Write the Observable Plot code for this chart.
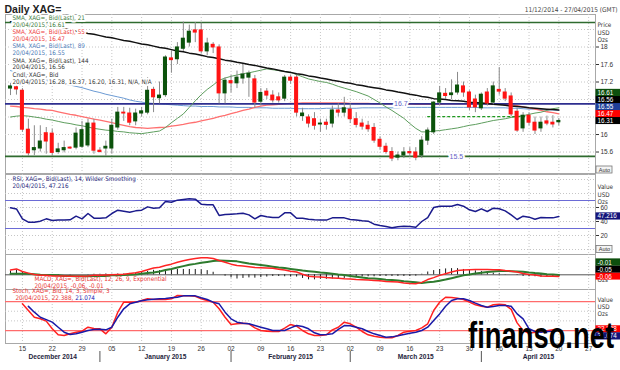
<!DOCTYPE html>
<html><head><meta charset="utf-8">
<script src="https://cdn.jsdelivr.net/npm/d3@7"></script>
<script src="https://cdn.jsdelivr.net/npm/@observablehq/plot@0.6"></script>
<style>
body{margin:0;background:#fff;}
#wrap{position:relative;width:620px;height:370px;overflow:hidden;background:#fff;}
#wrap svg{position:absolute;left:0;top:0;background:transparent !important;}
#wm{position:absolute;right:6px;top:318px;font-family:"Liberation Sans",Arial,sans-serif;font-weight:bold;font-size:36px;line-height:36px;color:#000;transform:scaleX(0.76);transform-origin:100% 50%;white-space:nowrap;}
</style></head><body><div id="wrap"></div>
<script>
// ---------- DATA ----------
const firstDay = "2014-12-11", lastAxisDay = "2015-04-27";
const open = [17.05,17.08,17.00,16.11,15.64,15.68,16.03,16.02,15.60,15.64,
 15.70,15.70,15.72,15.75,16.25,15.63,15.68,15.68,16.16,16.50,
 16.48,16.30,16.48,16.50,17.02,16.83,16.90,17.74,17.72,17.96,
 18.10,18.38,18.38,17.90,18.05,17.99,16.94,17.22,17.17,17.28,
 17.30,17.26,16.75,16.98,16.89,16.85,16.82,17.30,17.30,16.42,
 16.39,16.35,16.23,16.27,16.25,16.55,16.50,16.57,16.35,16.25,
 16.20,16.15,15.88,15.72,15.60,15.47,15.52,15.60,15.59,15.52,
 15.86,16.05,16.73,16.93,16.90,16.96,17.10,16.96,16.80,16.60,
 16.96,16.73,17.02,16.96,16.87,16.52,16.14,16.43,16.27,16.14,
 16.30,16.27,16.28];
const high = [17.17,17.12,17.05,16.35,16.20,16.20,16.16,16.12,15.80,15.85,
 15.72,16.15,16.30,16.35,16.35,15.70,15.85,16.35,16.62,16.62,
 16.60,16.58,16.62,17.30,17.08,17.20,17.80,17.90,18.10,18.57,
 18.50,18.56,18.55,18.20,18.10,18.05,17.30,17.35,17.45,17.60,
 17.45,17.35,17.05,17.05,17.00,16.95,17.35,17.35,17.35,16.60,
 16.45,16.50,16.35,16.35,16.65,16.70,16.85,16.70,16.50,16.35,
 16.30,16.25,15.95,15.80,15.70,15.60,15.70,15.70,15.70,15.95,
 16.15,16.75,17.10,17.05,17.25,17.42,17.20,17.00,16.90,16.95,
 17.05,17.20,17.53,17.05,16.95,16.60,16.50,16.50,16.40,16.40,
 16.42,16.43,16.37];
const low = [16.89,16.90,16.05,15.50,15.52,15.60,15.55,15.52,15.55,15.58,
 15.66,15.65,15.68,15.70,15.55,15.58,15.50,15.55,16.10,16.30,
 16.20,16.20,16.40,16.45,16.50,16.70,16.85,17.40,17.60,17.90,
 18.00,18.10,17.85,17.80,17.85,16.70,16.70,16.95,17.05,17.15,
 16.85,16.60,16.65,16.80,16.72,16.72,16.75,17.15,16.40,16.30,
 16.15,16.10,16.05,16.10,16.15,16.40,16.40,16.25,16.15,16.10,
 16.05,15.80,15.65,15.55,15.38,15.40,15.45,15.48,15.40,15.45,
 15.75,16.00,16.65,16.80,16.80,16.90,16.85,16.55,16.50,16.55,
 16.65,16.68,16.90,16.75,16.40,16.05,16.05,16.20,16.00,16.05,
 16.20,16.15,16.20];
const close = [17.10,17.03,16.11,15.57,15.69,15.84,15.84,15.58,15.66,15.69,
 15.68,16.02,16.10,16.25,15.63,15.60,15.72,16.20,16.50,16.48,
 16.27,16.48,16.53,17.00,16.85,16.89,17.76,17.70,17.99,18.19,
 18.35,18.33,17.90,18.08,17.99,16.94,17.23,17.17,17.30,17.37,
 17.39,16.73,16.95,16.89,16.78,16.78,17.30,17.23,16.50,16.48,
 16.25,16.20,16.25,16.22,16.55,16.50,16.60,16.35,16.22,16.18,
 16.12,15.86,15.72,15.60,15.45,15.52,15.59,15.57,15.47,15.86,
 16.09,16.73,16.94,16.88,16.94,17.12,16.96,16.62,16.62,16.91,
 16.71,17.10,16.98,16.82,16.46,16.09,16.43,16.27,16.09,16.27,
 16.25,16.23,16.31];
const sma21 = [16.40,16.42,16.43,16.42,16.40,16.38,16.35,16.33,16.30,16.27,
 16.25,16.22,16.20,16.17,16.14,16.12,16.10,16.09,16.07,16.06,
 16.04,16.03,16.02,16.04,16.06,16.08,16.16,16.27,16.37,16.47,
 16.62,16.77,16.91,17.03,17.13,17.24,17.29,17.33,17.36,17.39,
 17.41,17.44,17.47,17.50,17.48,17.46,17.44,17.42,17.37,17.32,
 17.27,17.24,17.21,17.19,17.15,17.10,17.06,17.02,16.98,16.93,
 16.88,16.80,16.72,16.63,16.55,16.46,16.37,16.25,16.14,16.06,
 16.06,16.08,16.09,16.11,16.13,16.15,16.18,16.21,16.23,16.26,
 16.29,16.32,16.34,16.36,16.39,16.41,16.43,16.46,16.49,16.51,
 16.55,16.59,16.61];
const sma55 = [16.65,16.64,16.62,16.61,16.59,16.58,16.56,16.55,16.52,16.49,
 16.46,16.44,16.41,16.38,16.35,16.33,16.30,16.27,16.24,16.21,
 16.18,16.16,16.15,16.14,16.15,16.16,16.17,16.19,16.21,16.23,
 16.26,16.28,16.31,16.34,16.37,16.41,16.44,16.48,16.51,16.55,
 16.58,16.62,16.65,16.67,16.68,16.69,16.70,16.71,16.71,16.72,
 16.72,16.72,16.72,16.72,16.72,16.72,16.72,16.71,16.71,16.71,
 16.71,16.70,16.70,16.70,16.70,16.70,16.70,16.70,16.69,16.69,
 16.69,16.69,16.69,16.70,16.70,16.70,16.70,16.70,16.70,16.70,
 16.70,16.70,16.70,16.69,16.68,16.66,16.63,16.61,16.58,16.55,
 16.52,16.50,16.47];
const sma89 = [17.46,17.43,17.40,17.36,17.32,17.28,17.25,17.22,17.18,17.15,
 17.13,17.10,17.07,17.03,16.99,16.96,16.92,16.89,16.86,16.83,
 16.79,16.76,16.74,16.72,16.71,16.70,16.69,16.68,16.67,16.66,
 16.65,16.65,16.64,16.64,16.64,16.63,16.63,16.63,16.62,16.62,
 16.62,16.61,16.61,16.61,16.60,16.60,16.60,16.60,16.59,16.59,
 16.59,16.59,16.59,16.60,16.60,16.60,16.60,16.60,16.60,16.61,
 16.61,16.61,16.61,16.61,16.61,16.61,16.62,16.62,16.62,16.62,
 16.62,16.62,16.62,16.62,16.62,16.62,16.62,16.62,16.62,16.61,
 16.61,16.61,16.61,16.61,16.60,16.60,16.59,16.58,16.58,16.57,
 16.56,16.56,16.55];
const sma144 = [18.58,18.56,18.55,18.53,18.52,18.50,18.49,18.47,18.44,18.42,
 18.39,18.36,18.34,18.31,18.29,18.26,18.23,18.21,18.18,18.15,
 18.13,18.10,18.07,18.05,18.02,17.99,17.97,17.94,17.91,17.89,
 17.86,17.84,17.81,17.78,17.76,17.73,17.70,17.68,17.65,17.63,
 17.60,17.58,17.55,17.52,17.50,17.47,17.44,17.42,17.39,17.37,
 17.34,17.32,17.29,17.27,17.24,17.22,17.19,17.17,17.14,17.12,
 17.09,17.07,17.05,17.02,17.00,16.97,16.95,16.92,16.90,16.87,
 16.85,16.82,16.81,16.80,16.78,16.77,16.76,16.74,16.73,16.72,
 16.71,16.69,16.68,16.67,16.65,16.64,16.63,16.61,16.60,16.59,
 16.58,16.57,16.56];
const rsi = [59.5,58,43.8,39,39,40.5,43.8,41.4,42,42,
 42.4,47.6,43.8,51.4,44.7,44.7,45.2,51.4,56.2,54.8,
 53.3,55.2,56.2,60.9,59,59.5,68.6,67.6,70.5,71.4,
 72.4,71.9,64.8,63.8,63.8,48.6,50,50.5,51,51.9,
 49.5,43.8,48.6,46.7,45.7,45.7,52.4,52.4,44.7,44.7,
 43.3,42.4,42,42,45.2,45.2,45.2,42.9,42,41,
 40.5,36.2,34.3,32.9,31,32.4,33.3,32.9,31.9,40,
 45.7,60,61.9,61.9,61.9,64.3,61.9,56.7,54.3,58.1,
 54.3,59,58.1,55.2,49.5,42.9,47.6,46.2,43.3,45.7,
 45.2,45.2,47.2];
const macd = [0.17,0.21,0.12,0.06,0.01,-0.02,-0.02,-0.04,-0.04,-0.04,
 -0.05,-0.05,-0.05,-0.04,-0.02,-0.02,-0.01,0,0.01,0.02,
 0.05,0.07,0.12,0.18,0.24,0.27,0.33,0.38,0.45,0.5,
 0.55,0.58,0.61,0.61,0.58,0.51,0.45,0.38,0.33,0.31,
 0.29,0.26,0.25,0.24,0.23,0.2,0.17,0.13,0.1,0.02,
 -0.05,-0.07,-0.08,-0.1,-0.11,-0.12,-0.14,-0.15,-0.17,-0.18,
 -0.19,-0.2,-0.21,-0.24,-0.25,-0.26,-0.29,-0.31,-0.32,-0.27,
 -0.17,-0.1,-0.02,0.04,0.1,0.15,0.17,0.18,0.19,0.19,
 0.19,0.18,0.18,0.15,0.13,0.1,0.05,0.01,-0.01,-0.04,
 -0.05,-0.05,-0.06];
const signal = [0.04,0.04,0.04,0.04,0.02,0,-0.01,-0.01,-0.02,-0.04,
 -0.04,-0.05,-0.05,-0.05,-0.04,-0.04,-0.04,-0.02,-0.02,-0.01,
 0,0.01,0.04,0.06,0.08,0.12,0.17,0.21,0.26,0.31,
 0.36,0.39,0.43,0.46,0.49,0.51,0.5,0.49,0.48,0.44,
 0.4,0.38,0.35,0.32,0.29,0.26,0.24,0.21,0.18,0.15,
 0.13,0.11,0.08,0.06,0.04,0.01,-0.01,-0.04,-0.07,-0.1,
 -0.12,-0.13,-0.15,-0.18,-0.19,-0.2,-0.23,-0.25,-0.27,-0.29,
 -0.27,-0.25,-0.21,-0.17,-0.12,-0.07,-0.02,0.01,0.05,0.07,
 0.1,0.12,0.14,0.14,0.13,0.12,0.11,0.08,0.06,0.05,
 0.02,0.01,-0.01];
const hist = [0.13,0.17,0.08,0.02,-0.01,-0.02,-0.01,-0.03,-0.02,0,
 -0.01,0,0,0.01,0.02,0.02,0.03,0.02,0.03,0.03,
 0.05,0.06,0.08,0.12,0.16,0.15,0.16,0.17,0.19,0.19,
 0.19,0.19,0.18,0.15,0.09,0,-0.05,-0.11,-0.15,-0.13,
 -0.11,-0.12,-0.1,-0.08,-0.06,-0.06,-0.07,-0.08,-0.08,-0.13,
 -0.18,-0.18,-0.16,-0.16,-0.15,-0.13,-0.13,-0.11,-0.1,-0.08,
 -0.07,-0.07,-0.06,-0.06,-0.06,-0.06,-0.06,-0.06,-0.05,0.02,
 0.1,0.15,0.19,0.21,0.22,0.22,0.19,0.17,0.14,0.12,
 0.09,0.06,0.04,0.01,0,-0.02,-0.06,-0.07,-0.07,-0.09,
 -0.07,-0.06,-0.05];
const stochK = [null,null,75.3,61.5,47.6,44.3,39.5,23.6,11.2,9.7,
 13.2,16.6,18.7,26.9,24.3,23.6,13.2,26.9,58,78.7,
 78.7,78.7,82.2,85.7,84.3,84.3,84.3,85.7,92.5,91.8,
 91.8,91,85.7,82.2,78.7,65,47.6,32.6,34,35.2,
 34,25.5,20.1,18.7,18,18,25,32.6,29,20.1,
 13.2,9.7,9.7,11.2,21.5,26.9,37.3,34,26.9,18,
 11.2,8.3,6.2,4.9,4.9,9.7,16.6,18.7,20.1,25.5,
 34,61.5,78.7,89,88.3,87,84.3,78.7,73.3,70.3,
 68.3,73.3,74.6,73.3,63.8,35.9,20.1,14.5,16.6,18,
 19.4,21.5,22.4];
const stochD = [null,null,null,70,58,47.6,42.7,37.3,26.9,16.6,
 11.8,13.2,16.6,20.1,22.2,22.9,21.5,26.9,47.6,65,
 75.3,78.7,81.5,83.6,85,85.7,86.4,87.8,89,91.8,
 91.8,91.8,87.8,84.3,78.7,75.3,58,44.3,37.3,35.2,
 34,30.4,26.9,23.6,20.1,20.1,20.1,25.5,30.4,28.3,
 23.6,15.3,11.2,11.8,13.2,22.2,30.4,29.7,26.9,23.6,
 18,13.2,9.7,6.2,6.9,9,11.8,14.5,16.6,20.1,
 26.9,40.8,54.5,70.3,82.2,85.7,85.7,82.2,76.7,71.7,
 68.3,69.6,71.7,71.7,70.3,54.5,44.3,23.6,18,16.6,
 18,18.7,21.1];
// last readings printed by the chart
const rsiLast = 47.216, macdLast = -0.06, signalLast = -0.01, histLast = -0.05, stochKLast = 22.388, stochDLast = 21.074;
// horizontal levels drawn on the price chart
const levels = [{v: 18.56, c: "#2f6b2f"}, {v: 16.7, c: "#2e2e8f", label: "16.7"}, {v: 15.5, c: "#2f6b2f", label: "15.5"}];
const dashedLevel = [{v: 16.41, from: "2015-03-19", to: "2015-04-13"}];
const priceTicks = [15.6, 16, 17.2, 17.6, 18];
const priceGrid = [15.6, 16, 16.4, 16.8, 17.2, 17.6, 18, 18.4];
const monthNames = ["December 2014", "January 2015", "February 2015", "March 2015", "April 2015"];

// ---------- LAYOUT ----------
const NARROW = '"Liberation Sans Narrow","DejaVu Sans Condensed","Liberation Sans",Arial,sans-serif';
const FONT = '"Liberation Sans",Arial,sans-serif';
const days = d3.utcDays(new Date(firstDay), d3.utcDay.offset(new Date(lastAxisDay), 1)).filter(d => d.getUTCDay() % 6 !== 0);
const idxOf = s => days.findIndex(d => +d === +new Date(s));
const rows = close.map((c, i) => ({i, o: open[i], h: high[i], l: low[i], c, s21: sma21[i], s55: sma55[i], s89: sma89[i], s144: sma144[i],
  rsi: rsi[i], macd: macd[i], signal: signal[i], hist: hist[i], k: stochK[i], d: stochD[i]}));
const mondays = days.map((d, i) => ({d, i})).filter(o => o.d.getUTCDay() === 1);
const xDomain = [-0.84, 98.15];
const X = d3.scaleLinear(xDomain, [5, 595]);
const panels = {
  main: {top: 14, bottom: 173, domain: [15.109, 18.743]},
  rsi: {top: 174, bottom: 254, domain: [-7.14, 107.14]},
  macd: {top: 254, bottom: 289, domain: [-0.525, 0.725]},
  stoch: {top: 289, bottom: 343, domain: [-6.83, 104.97]}
};
for (const k in panels) panels[k].Y = d3.scaleLinear(panels[k].domain, [panels[k].bottom, panels[k].top]);

function stack(items, Y, dir) {
  const s = items.slice().sort((a, b) => dir === "up" ? a.v - b.v : b.v - a.v);
  let prev = null;
  return s.map(d => {
    let yc = Y(d.v);
    if (prev !== null) yc = dir === "up" ? Math.min(yc, prev - 7) : Math.max(yc, prev + 7);
    prev = yc;
    return {...d, ym: Y.invert(yc), y1: Y.invert(yc + 3.6), y2: Y.invert(yc - 3.6)};
  });
}
const bx1 = X.invert(595.5), bx2 = X.invert(620), btx = X.invert(597);
function boxMarks(boxes) {
  return [
    Plot.rect(boxes, {x1: bx1, x2: bx2, y1: "y1", y2: "y2", fill: "bg"}),
    Plot.text(boxes, {x: btx, y: "ym", text: "label", fill: "white", textAnchor: "start", fontSize: 6.3, fontFamily: FONT})
  ];
}
function autoMarks(Y, yc) {
  return [
    Plot.rect([0], {x1: X.invert(596), x2: X.invert(612), y1: Y.invert(yc + 3.5), y2: Y.invert(yc - 3.5), fill: "#f4f4f4", stroke: "#777", strokeWidth: 0.8}),
    Plot.text(["Auto"], {x: X.invert(604), y: Y.invert(yc), text: d => d, fontSize: 5.5, fill: "#333", fontFamily: FONT})
  ];
}
const grid = {stroke: "#c6c6c6", strokeDasharray: "1,2", strokeWidth: 1};
function makePlot(p, yOpts, xOpts, marks) {
  return Plot.plot({
    width: 620, height: 370,
    marginLeft: 5, marginRight: 25, marginTop: p.top, marginBottom: 370 - p.bottom,
    x: {domain: xDomain, axis: null, ...xOpts},
    y: {domain: p.domain, axis: null, label: null, ...yOpts},
    color: {type: "identity"},
    style: {background: "transparent", fontFamily: FONT, fontSize: "6.5px", color: "#333", overflow: "visible"},
    marks
  });
}
const fmt2 = v => v.toFixed(2);
const last = a => a[a.length - 1];
const halo = {stroke: "white", strokeWidth: 3.5};

// ---------- MAIN PRICE PANEL ----------
const M = panels.main;
const legendBlocks = [
  {t: `SMA, XAG=, Bid(Last), 21\n20/04/2015, ${fmt2(last(sma21))}`, c: "#3b7b3b"},
  {t: `SMA, XAG=, Bid(Last), 55\n20/04/2015, ${fmt2(last(sma55))}`, c: "#ee3b3b"},
  {t: `SMA, XAG=, Bid(Last), 89\n20/04/2015, ${fmt2(last(sma89))}`, c: "#4a78b5"},
  {t: `SMA, XAG=, Bid(Last), 144\n20/04/2015, ${fmt2(last(sma144))}`, c: "#333"},
  {t: `Cndl, XAG=, Bid\n20/04/2015, ${fmt2(last(open))}, ${fmt2(last(high))}, ${fmt2(last(low))}, ${fmt2(last(close))}, N/A, N/A`, c: "#333"}
];
const mainBoxes = stack([
  {v: last(sma21), label: fmt2(last(sma21)), bg: "#0d4f0d"},
  {v: last(sma144), label: fmt2(last(sma144)), bg: "#000"},
  {v: last(sma89), label: fmt2(last(sma89)), bg: "#1f3f99"},
  {v: last(sma55), label: fmt2(last(sma55)), bg: "#ff0000"},
  {v: last(close), label: fmt2(last(close)), bg: "#000"}
], M.Y, "up");
const levelLabelAt = {"16.7": 65.5, "15.5": 74.8};
const mainPlot = makePlot(M, {axis: "right", ticks: priceTicks, tickSize: 3, tickPadding: 2, tickFormat: d => String(d)}, {}, [
  Plot.frame({stroke: "#a8a8a8"}),
  Plot.ruleX(mondays, {x: "i", ...grid}),
  Plot.ruleY(priceGrid, grid),
  Plot.line(rows, {x: "i", y: "s89", stroke: "#6c9bd4", strokeWidth: 1}),
  Plot.line(rows, {x: "i", y: "s55", stroke: "#ff7070", strokeWidth: 1.3}),
  Plot.ruleY(levels, {y: "v", stroke: "c", strokeWidth: 1.6}),
  Plot.line(rows, {x: "i", y: "s21", stroke: "#5e9e5e", strokeWidth: 1}),
  Plot.line(rows, {x: "i", y: "s144", stroke: "#111", strokeWidth: 1.5}),
  Plot.ruleY(dashedLevel, {y: "v", x1: d => idxOf(d.from), x2: d => idxOf(d.to), stroke: "#1f9a1f", strokeDasharray: "3,2", strokeWidth: 1.2}),
  Plot.ruleX(rows, {x: "i", y1: "l", y2: "h", stroke: "#8a8a8a", strokeWidth: 1}),
  Plot.rect(rows.filter(d => d.c >= d.o), {x1: d => d.i - 0.34, x2: d => d.i + 0.34, y1: "o", y2: "c", fill: "#0b520b", insetTop: -0.5, insetBottom: -0.5}),
  Plot.rect(rows.filter(d => d.c < d.o), {x1: d => d.i - 0.34, x2: d => d.i + 0.34, y1: "o", y2: "c", fill: "#ff1414", insetTop: -0.5, insetBottom: -0.5}),
  Plot.text(levels.filter(d => d.label), {x: d => levelLabelAt[d.label], y: "v", text: "label", fill: "#6464c8", fontSize: 7, fontFamily: FONT, stroke: "white", strokeWidth: 4}),
  ...legendBlocks.map((b, k) => Plot.text([b], {text: "t", frameAnchor: "top-left", dx: 7, dy: 0.5 + 14.2 * k, lineAnchor: "top", lineHeight: 1.1, fontSize: 6.3, fontFamily: NARROW, fill: b.c, ...halo})),
  Plot.text(["Daily XAG="], {text: d => d, frameAnchor: "top-left", dx: -1, dy: -2, lineAnchor: "bottom", fontSize: 10.5, fontWeight: "bold", fill: "#222"}),
  Plot.text(["11/12/2014 - 27/04/2015 (GMT)"], {text: d => d, frameAnchor: "top-right", dx: 22, dy: -3, lineAnchor: "bottom", textAnchor: "end", fontSize: 6.5, fill: "#444", fontFamily: NARROW}),
  Plot.text(["Price\nUSD\nOzs"], {text: d => d, frameAnchor: "top-right", dx: 2, dy: 7.5, lineAnchor: "top", textAnchor: "start", lineHeight: 1.17, fontSize: 6.3, fill: "#333", fontFamily: NARROW}),
  ...boxMarks(mainBoxes),
  ...autoMarks(M.Y, 169.5)
]);

// ---------- RSI PANEL ----------
const R = panels.rsi;
const rsiPlot = makePlot(R, {axis: "right", ticks: [20, 40, 60], tickSize: 3, tickPadding: 2}, {}, [
  Plot.frame({stroke: "#a8a8a8"}),
  Plot.ruleX(mondays, {x: "i", ...grid}),
  Plot.ruleY([0, 20, 40, 60, 80, 100], grid),
  Plot.ruleY([30, 70], {stroke: "#6b6bd6", strokeWidth: 1.2}),
  Plot.line(rows, {x: "i", y: "rsi", stroke: "#1b1b8c", strokeWidth: 1.5}),
  Plot.text([`RSI, XAG=, Bid(Last), 14, Wilder Smoothing\n20/04/2015, ${rsiLast}`], {text: d => d, frameAnchor: "top-left", dx: 7, dy: 1.5, lineAnchor: "top", lineHeight: 1.1, fontSize: 6.3, fontFamily: NARROW, fill: "#26267d"}),
  Plot.text(["Value\nUSD\nOzs"], {text: d => d, frameAnchor: "top-right", dx: 2, dy: 9.5, lineAnchor: "top", textAnchor: "start", lineHeight: 1.17, fontSize: 6.3, fill: "#333", fontFamily: NARROW}),
  ...boxMarks(stack([{v: rsiLast, label: String(rsiLast), bg: "#14147a"}], R.Y, "up")),
  ...autoMarks(R.Y, 249)
]);

// ---------- MACD PANEL ----------
const C = panels.macd;
const macdPlot = makePlot(C, {}, {}, [
  Plot.frame({stroke: "#a8a8a8"}),
  Plot.ruleX(mondays, {x: "i", ...grid}),
  Plot.ruleY([0], {stroke: "#555", strokeWidth: 1}),
  Plot.ruleX(rows, {x: "i", y1: 0, y2: "hist", stroke: "#1a1a1a", strokeWidth: 1}),
  Plot.line(rows, {x: "i", y: "signal", stroke: "#2e7b2e", strokeWidth: 2}),
  Plot.line(rows, {x: "i", y: "macd", stroke: "#ff2424", strokeWidth: 1.5}),
  Plot.text([`MACD, XAG=, Bid(Last), 12, 26, 9, Exponential\n20/04/2015, ${macdLast.toFixed(2)}, ${signalLast.toFixed(2)}`], {text: d => d, frameAnchor: "top-left", dx: 29, dy: 21.5, lineAnchor: "top", lineHeight: 1.1, fontSize: 6.3, fontFamily: NARROW, fill: "#e83232"}),
  Plot.text(["Ozs"], {text: d => d, frameAnchor: "bottom-right", dx: 2, dy: -8, textAnchor: "start", fontSize: 6.3, fill: "#333", fontFamily: NARROW}),
  ...boxMarks(stack([
    {v: signalLast, label: signalLast.toFixed(2), bg: "#0d4f0d"},
    {v: histLast, label: histLast.toFixed(2), bg: "#000"},
    {v: macdLast, label: macdLast.toFixed(2), bg: "#ff0000"}
  ], C.Y, "up"))
]);

// ---------- STOCHASTIC PANEL + DATE AXIS ----------
const S = panels.stoch;
const fmtDay = d3.utcFormat("%d");
const monthStarts = days.map((d, i) => i).filter(i => i > 0 && days[i].getUTCMonth() !== days[i - 1].getUTCMonth());
const bounds = [xDomain[0], ...monthStarts, xDomain[1]];
const months = monthNames.map((name, k) => ({name, x: (bounds[k] + bounds[k + 1]) / 2}));
const ctx = document.createElement("canvas").getContext("2d");
ctx.font = `6.3px ${NARROW}`;
const stochLine2a = `20/04/2015, ${stochKLast},`;
const wA = ctx.measureText(stochLine2a + " ").width;
const stochPlot = makePlot(S, {}, {axis: "bottom", ticks: mondays.map(m => m.i), tickFormat: i => fmtDay(days[i]), tickSize: 0, tickPadding: 3, label: null}, [
  Plot.frame({stroke: "#a8a8a8"}),
  Plot.ruleX(mondays, {x: "i", ...grid}),
  Plot.ruleY([40, 60], grid),
  Plot.ruleY([20, 80], {stroke: "#ff6b6b", strokeWidth: 1.2}),
  Plot.line(rows, {x: "i", y: "k", stroke: "#ff2020", strokeWidth: 1.5}),
  Plot.line(rows, {x: "i", y: "d", stroke: "#1a1aa8", strokeWidth: 1.5}),
  Plot.text(["Stoch, XAG=, Bid, 14, 3, Simple, 3"], {text: d => d, frameAnchor: "top-left", dx: 7, dy: -1, lineAnchor: "top", fontSize: 6.3, fontFamily: NARROW, fill: "#e83232"}),
  Plot.text([stochLine2a], {text: d => d, frameAnchor: "top-left", dx: 10, dy: 6.2, lineAnchor: "top", fontSize: 6.3, fontFamily: NARROW, fill: "#e83232"}),
  Plot.text([String(stochDLast)], {text: d => d, frameAnchor: "top-left", dx: 10 + wA, dy: 6.2, lineAnchor: "top", fontSize: 6.3, fontFamily: NARROW, fill: "#2020b0"}),
  Plot.text(["Value\nUSD\nOzs"], {text: d => d, frameAnchor: "top-right", dx: 2, dy: 7, lineAnchor: "top", textAnchor: "start", lineHeight: 1.17, fontSize: 6.3, fill: "#333", fontFamily: NARROW}),
  ...boxMarks(stack([
    {v: stochKLast, label: String(stochKLast), bg: "#ff0000"},
    {v: stochDLast, label: String(stochDLast), bg: "#14147a"}
  ], S.Y, "down")),
  Plot.text(months, {x: "x", text: "name", frameAnchor: "bottom", dy: 15, fontSize: 6.6, fontWeight: "bold", fill: "#1e1e3c"}),
  Plot.ruleX(monthStarts, {x: d => d, y1: S.Y.invert(351), y2: S.Y.invert(362), stroke: "#555", strokeWidth: 1})
]);

const wrap = document.getElementById("wrap");
for (const p of [mainPlot, rsiPlot, macdPlot, stochPlot]) wrap.appendChild(p);
const wm = document.createElement("div");
wm.id = "wm"; wm.textContent = "finanso.net";
wrap.appendChild(wm);
</script></body></html>
